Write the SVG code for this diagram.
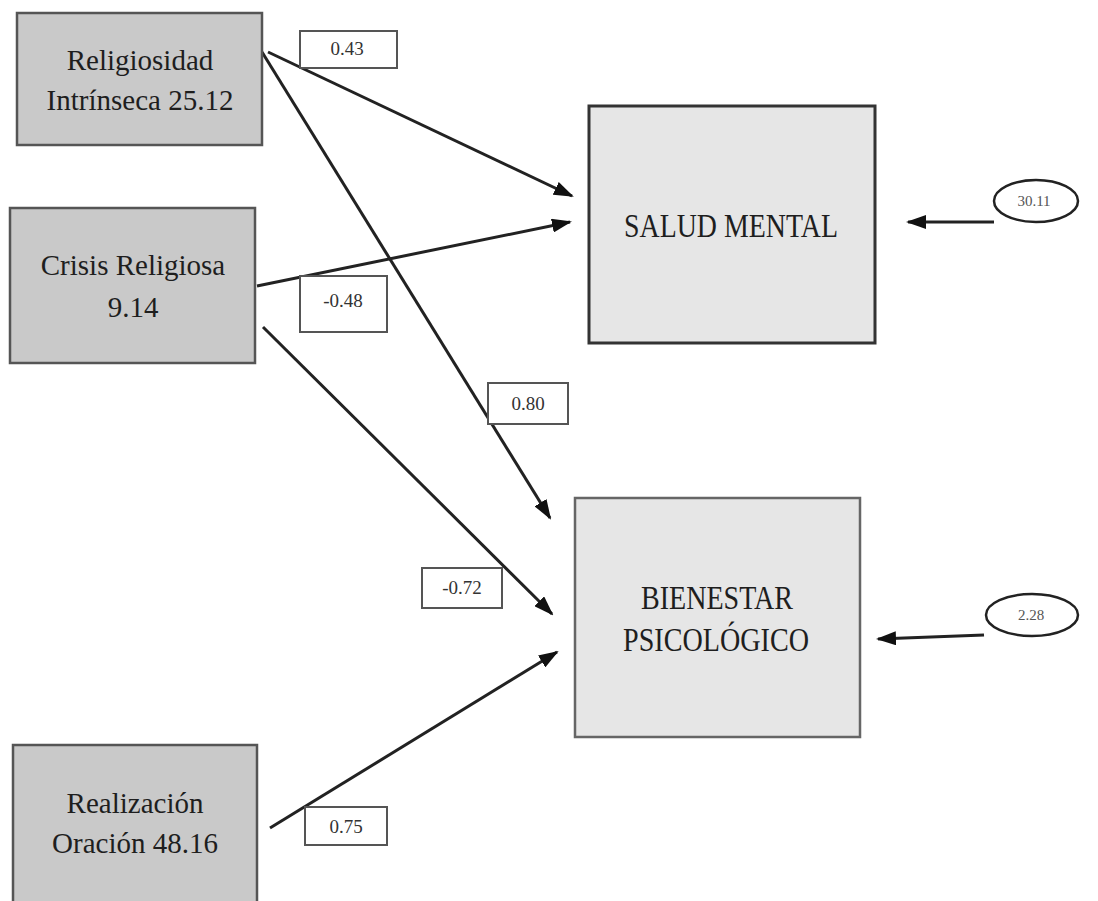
<svg xmlns="http://www.w3.org/2000/svg" width="1098" height="901" viewBox="0 0 1098 901">
<style>
.src{fill:#c9c9c9;stroke:#555;stroke-width:2.5}
.dst{fill:#e6e6e6;stroke:#333;stroke-width:3}
.lbl{fill:#fff;stroke:#555;stroke-width:2}
.err{fill:#fff;stroke:#222;stroke-width:2.5}
.edge{stroke:#222;stroke-width:3;fill:none;marker-end:url(#ah)}
svg text{font-family:"Liberation Serif",serif !important}
</style>
<defs>
<marker id="ah" markerWidth="20" markerHeight="14" refX="18" refY="7" orient="auto" markerUnits="userSpaceOnUse">
<path d="M0,0 L20,7 L0,14 z" fill="#111"/>
</marker>
</defs>
<rect width="1098" height="901" fill="#fff"/>

<g id="connectors">
<line class="edge" x1="268" y1="52" x2="572" y2="196"/>
<line class="edge" x1="262" y1="52" x2="550" y2="518"/>
<line class="edge" x1="257" y1="286" x2="570" y2="222"/>
<line class="edge" x1="263" y1="327" x2="552" y2="614"/>
<line class="edge" x1="270" y1="828" x2="557" y2="652"/>
<line class="edge" x1="994" y1="222" x2="908" y2="222"/>
<line class="edge" x1="984" y1="635" x2="878" y2="639"/>
</g>

<g id="node-religiosidad">
<rect class="src" x="17" y="13" width="245" height="132"/>
<text x="140" y="70" style="font-family:'Liberation Serif',serif" font-family="Liberation Serif" font-size="29" fill="#1e1e1e" text-anchor="middle">Religiosidad</text>
<text x="140" y="110" style="font-family:'Liberation Serif',serif" font-family="Liberation Serif" font-size="29" fill="#1e1e1e" text-anchor="middle">Intrínseca 25.12</text>
</g>

<g id="node-crisis">
<rect class="src" x="10" y="208" width="245" height="155"/>
<text x="133" y="275" style="font-family:'Liberation Serif',serif" font-family="Liberation Serif" font-size="29" fill="#1e1e1e" text-anchor="middle">Crisis Religiosa</text>
<text x="133" y="317" style="font-family:'Liberation Serif',serif" font-family="Liberation Serif" font-size="29" fill="#1e1e1e" text-anchor="middle">9.14</text>
</g>

<g id="node-realizacion">
<rect class="src" x="13" y="745" width="244" height="165"/>
<text x="135" y="813" style="font-family:'Liberation Serif',serif" font-family="Liberation Serif" font-size="29" fill="#1e1e1e" text-anchor="middle">Realización</text>
<text x="135" y="853" style="font-family:'Liberation Serif',serif" font-family="Liberation Serif" font-size="29" fill="#1e1e1e" text-anchor="middle">Oración 48.16</text>
</g>

<g id="node-salud">
<rect class="dst" x="589" y="106" width="286" height="237"/>
<text x="731" y="237" style="font-family:'Liberation Serif',serif" font-family="Liberation Serif" font-size="34" fill="#1e1e1e" text-anchor="middle" textLength="214" lengthAdjust="spacingAndGlyphs">SALUD MENTAL</text>
</g>

<g id="node-bienestar">
<rect class="dst" x="575" y="498" width="285" height="239" style="stroke:#666;stroke-width:2.5"/>
<text x="717" y="609" style="font-family:'Liberation Serif',serif" font-family="Liberation Serif" font-size="34" fill="#1e1e1e" text-anchor="middle" textLength="152" lengthAdjust="spacingAndGlyphs">BIENESTAR</text>
<text x="716" y="651" style="font-family:'Liberation Serif',serif" font-family="Liberation Serif" font-size="34" fill="#1e1e1e" text-anchor="middle" textLength="186" lengthAdjust="spacingAndGlyphs">PSICOLÓGICO</text>
</g>

<g id="err-salud">
<ellipse class="err" cx="1036" cy="201" rx="42" ry="21"/>
<text x="1034" y="206" style="font-family:'Liberation Serif',serif" font-family="Liberation Serif" font-size="15" fill="#555" text-anchor="middle">30.11</text>
</g>

<g id="err-bienestar">
<ellipse class="err" cx="1032" cy="615" rx="46" ry="21"/>
<text x="1031" y="620" style="font-family:'Liberation Serif',serif" font-family="Liberation Serif" font-size="15" fill="#555" text-anchor="middle">2.28</text>
</g>

<g id="label-043">
<rect class="lbl" x="300" y="31" width="97" height="37"/>
<text x="347" y="55" style="font-family:'Liberation Serif',serif" font-family="Liberation Serif" font-size="19" fill="#333" text-anchor="middle">0.43</text>
</g>
<g id="label-048">
<rect class="lbl" x="300" y="276" width="87" height="56"/>
<text x="343" y="307" style="font-family:'Liberation Serif',serif" font-family="Liberation Serif" font-size="19" fill="#333" text-anchor="middle">-0.48</text>
</g>
<g id="label-080">
<rect class="lbl" x="488" y="383" width="80" height="41"/>
<text x="528" y="410" style="font-family:'Liberation Serif',serif" font-family="Liberation Serif" font-size="19" fill="#333" text-anchor="middle">0.80</text>
</g>
<g id="label-072">
<rect class="lbl" x="422" y="568" width="80" height="40"/>
<text x="462" y="594" style="font-family:'Liberation Serif',serif" font-family="Liberation Serif" font-size="19" fill="#333" text-anchor="middle">-0.72</text>
</g>
<g id="label-075">
<rect class="lbl" x="305" y="807" width="82" height="38"/>
<text x="346" y="833" style="font-family:'Liberation Serif',serif" font-family="Liberation Serif" font-size="19" fill="#333" text-anchor="middle">0.75</text>
</g>
</svg>
